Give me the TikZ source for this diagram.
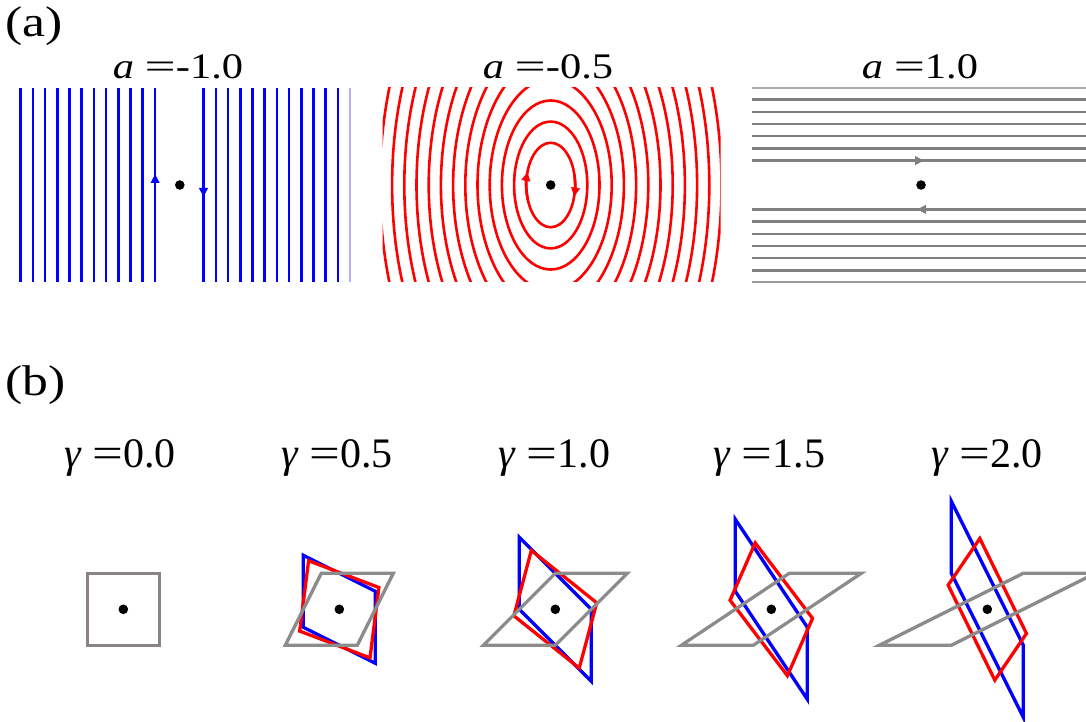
\documentclass[tikz,border=0pt]{standalone}
\usepackage{fontspec}
\setmainfont{Liberation Serif}
\usepackage{graphicx}
\usetikzlibrary{arrows.meta}
\definecolor{pblue}{RGB}{0,0,255}
\definecolor{pred}{RGB}{255,0,0}
\definecolor{pgrayA}{RGB}{128,128,128}
\definecolor{pgrayB}{RGB}{140,140,140}
\definecolor{pgrayZ}{RGB}{138,130,131}
\newcommand{\eqw}{\scalebox{1.3}[1]{=}}
\begin{document}
\begin{tikzpicture}[x=1pt,y=1pt,
  atitle/.style={anchor=base, inner sep=0pt, font=\fontsize{36}{40}\selectfont},
  btitle/.style={anchor=base, inner sep=0pt, font=\fontsize{42}{46}\selectfont},
  plabel/.style={anchor=base west, inner sep=0pt, font=\fontsize{43}{48}\selectfont},
  bline/.style={pblue, line width=2.6pt},
  rline/.style={pred, line width=2.6pt},
  gline/.style={pgrayA, line width=2.3pt},
  tip/.style={-{Triangle[length=9pt,width=8.5pt]}},
  dot/.style={circle, fill=black, inner sep=0pt, minimum size=9.6pt},
  shapeb/.style={line width=3.3pt, line join=miter},
]
\useasboundingbox (0,0) rectangle (1086,721);
\fill[white] (0,0) rectangle (1086,721);

% panel labels
\node[plabel] (la) at (5,684) {\scalebox{1.2}[1]{(a)}};
\node[plabel] (lb) at (5,326) {\scalebox{1.2}[1]{(b)}};

% (a) titles
\node[atitle] (ta1) at (178,642.7) {\scalebox{1.18}[1]{\textit{a} \eqw-1.0}};
\node[atitle] (ta2) at (548,642.7) {\scalebox{1.18}[1]{\textit{a} \eqw-0.5}};
\node[atitle] (ta3) at (920,642.7) {\scalebox{1.18}[1]{\textit{a} \eqw1.0}};

% blue panel, a=-1
\foreach \k in {2,...,13}{
  \draw[bline] ({179.3-12.2*\k},439) -- ({179.3-12.2*\k},633.3);
  \draw[bline] ({179.3+12.2*\k},439) -- ({179.3+12.2*\k},633.3);
}
\draw[pblue!30, line width=1.5pt] (350.1,439) -- (350.1,633.3);
\draw[bline, tip] (155.1,528) -- (155.1,547);
\draw[bline, tip] (203.5,544) -- (203.5,524);
\node[dot] (d1) at (179.8,536) {};

% red panel, a=-0.5
\begin{scope}
  \clip (382.7,439) rectangle (720.5,633);
  \foreach \k in {2,...,14}{
    \draw[rline] (550.7,536) ellipse [x radius={12.2*\k}, y radius={21.131*\k}];
  }
\end{scope}
\draw[rline, tip] (550.7,536) ++(200:24.4 and 42.26) arc[start angle=200, end angle=162, x radius=24.4, y radius=42.26];
\draw[rline, tip] (550.7,536) ++(15:24.4 and 42.26) arc[start angle=15, end angle=-16, x radius=24.4, y radius=42.26];
\node[dot] (d2) at (550.7,536) {};

% gray panel, a=1
\foreach \k in {2,...,7}{
  \draw[gline] (751.7,{536+12.2*\k}) -- (1092,{536+12.2*\k});
  \draw[gline] (751.7,{536-12.2*\k}) -- (1092,{536-12.2*\k});
}
\draw[pgrayA!65, line width=1.7pt] (751.7,632.8) -- (1092,632.8);
\draw[pgrayA!80, line width=1.9pt] (751.7,439.2) -- (1092,439.2);
\draw[gline, tip] (903,560.4) -- (924,560.4);
\draw[gline, tip] (938,511.6) -- (917,511.6);
\node[dot] (d3) at (921,536) {};

% (b) titles
\node[btitle] (tb0) at (120,253.3) {\textit{γ} \eqw0.0};
\node[btitle] (tb1) at (337,253.3) {\textit{γ} \eqw0.5};
\node[btitle] (tb2) at (554.5,253.3) {\textit{γ} \eqw1.0};
\node[btitle] (tb3) at (769.5,253.3) {\textit{γ} \eqw1.5};
\node[btitle] (tb4) at (987,253.3) {\textit{γ} \eqw2.0};

% (b) gamma = 0
\begin{scope}[shift={(123.3,111.7)}]
  \draw[shapeb, pgrayZ] (-36,-36) -- (36,-36) -- (36,36) -- (-36,36) -- cycle;
\end{scope}
\node[dot] (e0) at (123.3,111.7) {};

% (b) gamma > 0
\foreach \i/\g/\rc/\rb/\rs in {1/0.5/0.97666/-0.37206/0.12402,
                               2/1.0/0.90770/-0.72673/0.24224,
                               3/1.5/0.79638/-1.04754/0.34918,
                               4/2.0/0.64790/-1.31940/0.43980}{
  \pgfmathsetmacro{\cx}{123.3+216*\i}
  \begin{scope}[shift={(\cx,111.7)}]
    \draw[shapeb, pblue, cm={1,-\g,0,1,(0,0)}] (-36,-36) -- (36,-36) -- (36,36) -- (-36,36) -- cycle;
    \draw[shapeb, pred, cm={\rc,\rb,\rs,\rc,(0,0)}] (-36,-36) -- (36,-36) -- (36,36) -- (-36,36) -- cycle;
    \draw[shapeb, pgrayB, cm={1,0,\g,1,(0,0)}] (-36,-36) -- (36,-36) -- (36,36) -- (-36,36) -- cycle;
    \node[dot] (e\i) at (0,0) {};
  \end{scope}
}
\end{tikzpicture}
\end{document}
